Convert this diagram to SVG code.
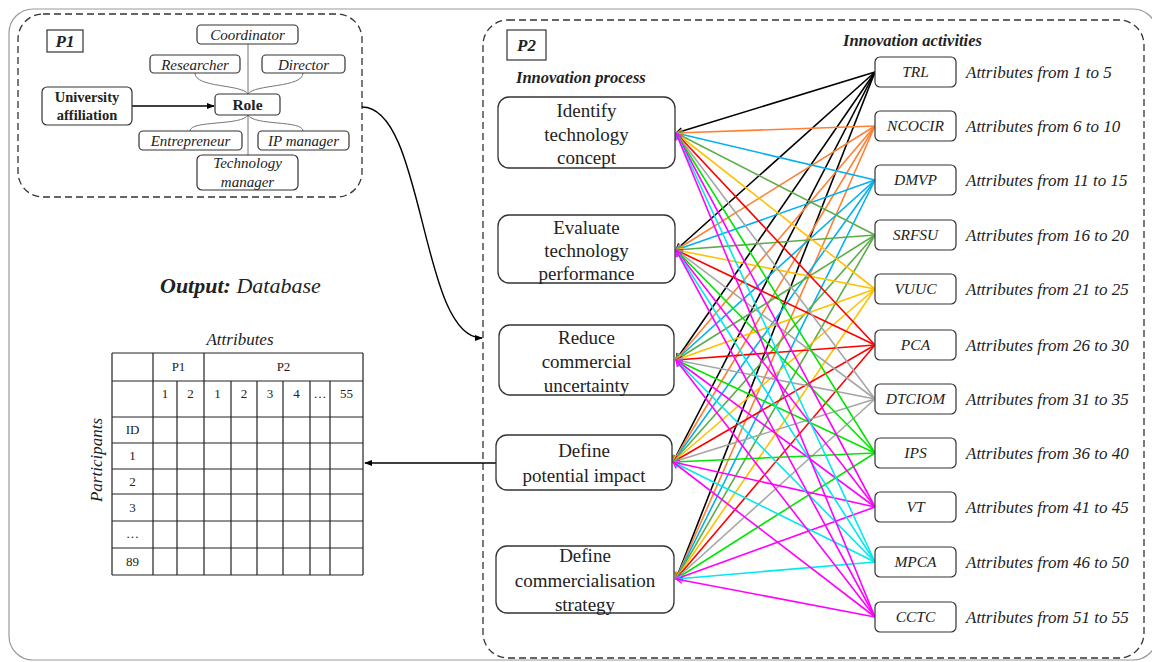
<svg xmlns="http://www.w3.org/2000/svg" width="1152" height="662" viewBox="0 0 1152 662">
<style>
.frame{fill:none;stroke:#9a9a9a;stroke-width:1.2}
.dash{fill:none;stroke:#333;stroke-width:1.3;stroke-dasharray:7 4}
.box{fill:#fff;stroke:#333;stroke-width:1.2}
.pbox{fill:#fff;stroke:#333;stroke-width:1.3}
.thin{fill:none;stroke:#777;stroke-width:1}
.blk{fill:none;stroke:#000;stroke-width:1.4}
.t{font-family:"Liberation Serif","Times New Roman",serif;fill:#222}
.i{font-style:italic}
.b{font-weight:bold}
.c{text-anchor:middle}
.tab{fill:none;stroke:#222;stroke-width:1.2}
#links path{fill:none;stroke-width:1.6}
</style>
<defs>
<marker id="ab" viewBox="0 0 10 10" refX="9" refY="5" markerWidth="8" markerHeight="8" markerUnits="userSpaceOnUse" orient="auto"><path d="M0,1 L10,5 L0,9 Z" fill="#000"/></marker>
<marker id="m0" viewBox="0 0 10 10" refX="9" refY="5" markerWidth="8" markerHeight="8" markerUnits="userSpaceOnUse" orient="auto"><path d="M1,1 L9,5 L1,9" fill="none" stroke="#000" stroke-width="1.6"/></marker>
<marker id="m1" viewBox="0 0 10 10" refX="9" refY="5" markerWidth="8" markerHeight="8" markerUnits="userSpaceOnUse" orient="auto"><path d="M1,1 L9,5 L1,9" fill="none" stroke="#ff8033" stroke-width="1.6"/></marker>
<marker id="m2" viewBox="0 0 10 10" refX="9" refY="5" markerWidth="8" markerHeight="8" markerUnits="userSpaceOnUse" orient="auto"><path d="M1,1 L9,5 L1,9" fill="none" stroke="#00b0f0" stroke-width="1.6"/></marker>
<marker id="m3" viewBox="0 0 10 10" refX="9" refY="5" markerWidth="8" markerHeight="8" markerUnits="userSpaceOnUse" orient="auto"><path d="M1,1 L9,5 L1,9" fill="none" stroke="#5cad48" stroke-width="1.6"/></marker>
<marker id="m4" viewBox="0 0 10 10" refX="9" refY="5" markerWidth="8" markerHeight="8" markerUnits="userSpaceOnUse" orient="auto"><path d="M1,1 L9,5 L1,9" fill="none" stroke="#ffc000" stroke-width="1.6"/></marker>
<marker id="m5" viewBox="0 0 10 10" refX="9" refY="5" markerWidth="8" markerHeight="8" markerUnits="userSpaceOnUse" orient="auto"><path d="M1,1 L9,5 L1,9" fill="none" stroke="#ff0000" stroke-width="1.6"/></marker>
<marker id="m6" viewBox="0 0 10 10" refX="9" refY="5" markerWidth="8" markerHeight="8" markerUnits="userSpaceOnUse" orient="auto"><path d="M1,1 L9,5 L1,9" fill="none" stroke="#a6a6a6" stroke-width="1.6"/></marker>
<marker id="m7" viewBox="0 0 10 10" refX="9" refY="5" markerWidth="8" markerHeight="8" markerUnits="userSpaceOnUse" orient="auto"><path d="M1,1 L9,5 L1,9" fill="none" stroke="#00e600" stroke-width="1.6"/></marker>
<marker id="m8" viewBox="0 0 10 10" refX="9" refY="5" markerWidth="8" markerHeight="8" markerUnits="userSpaceOnUse" orient="auto"><path d="M1,1 L9,5 L1,9" fill="none" stroke="#ff00ff" stroke-width="1.6"/></marker>
<marker id="m9" viewBox="0 0 10 10" refX="9" refY="5" markerWidth="8" markerHeight="8" markerUnits="userSpaceOnUse" orient="auto"><path d="M1,1 L9,5 L1,9" fill="none" stroke="#00e8f0" stroke-width="1.6"/></marker>
</defs>

<rect class="frame" x="9" y="9" width="1148" height="651" rx="24"/>

<!-- P1 -->
<g id="p1-frame">
<rect class="dash" x="18" y="14" width="344" height="183" rx="25"/>
<rect x="47" y="30" width="36" height="22" fill="#fff" stroke="#333" stroke-width="1.2"/>
<text class="t b i c" x="65" y="47" font-size="17">P1</text>
</g>
<g id="p1-links">
<path class="thin" d="M248,44 V94"/>
<path class="thin" d="M195,73 C195,88 242,84 248,94"/>
<path class="thin" d="M303,73 C303,88 254,84 248,94"/>
<path class="thin" d="M248,115 V155"/>
<path class="thin" d="M248,115 C242,126 190,120 190,131"/>
<path class="thin" d="M248,115 C254,126 303,120 303,131"/>
<path class="blk" d="M132,106 H214" marker-end="url(#ab)"/>
</g>
<g id="coordinator"><rect class="box" x="197" y="25" width="101" height="19" rx="4"/><text class="t i c" x="247.5" y="40" font-size="15">Coordinator</text></g>
<g id="researcher"><rect class="box" x="150" y="55" width="90" height="18" rx="4"/><text class="t i c" x="195" y="70" font-size="15">Researcher</text></g>
<g id="director"><rect class="box" x="262" y="55" width="83" height="18" rx="4"/><text class="t i c" x="303.5" y="70" font-size="15">Director</text></g>
<g id="university"><rect class="box" x="42" y="87" width="90" height="38" rx="5"/><text class="t b c" x="87" y="102" font-size="14.5">University</text><text class="t b c" x="87" y="120" font-size="14.5">affiliation</text></g>
<g id="role"><rect class="box" x="215" y="94" width="65" height="21" rx="4"/><text class="t b c" x="247.5" y="110" font-size="15.5">Role</text></g>
<g id="entrepreneur"><rect class="box" x="139" y="131" width="103" height="19" rx="4"/><text class="t i c" x="190.5" y="146" font-size="15">Entrepreneur</text></g>
<g id="ipmanager"><rect class="box" x="258" y="131" width="91" height="19" rx="4"/><text class="t i c" x="303.5" y="146" font-size="15">IP manager</text></g>
<g id="techmanager"><rect class="box" x="197" y="155" width="101" height="35" rx="5"/><text class="t i c" x="247.5" y="168" font-size="15">Technology</text><text class="t i c" x="247.5" y="187" font-size="15">manager</text></g>

<!-- Output -->
<g id="output">
<text class="t" x="160" y="293" font-size="22"><tspan class="b i">Output:</tspan><tspan class="i"> Database</tspan></text>
<text class="t i c" x="240" y="345" font-size="17">Attributes</text>
<text class="t i c" font-size="17" transform="translate(102,460) rotate(-90)">Participants</text>
<path class="tab" d="M112,353 H363 M112,381 H363 M112,417 H363 M112,443 H363 M112,469 H363 M112,494 H363 M112,521 H363 M112,548 H363 M112,575 H363 M112,353 V575 M363,353 V575 M153,353 V575 M204,353 V575 M177,381 V575 M231,381 V575 M257,381 V575 M283,381 V575 M310,381 V575 M330,381 V575"/>
<g class="t c" font-size="13">
<text x="178.5" y="371">P1</text><text x="283.5" y="371">P2</text>
<text x="165" y="398">1</text><text x="190.5" y="398">2</text><text x="217.5" y="398">1</text><text x="244" y="398">2</text><text x="270" y="398">3</text><text x="296.5" y="398">4</text><text x="320" y="398">…</text><text x="346.5" y="398">55</text>
<text x="132.5" y="434">ID</text><text x="132.5" y="460">1</text><text x="132.5" y="486">2</text><text x="132.5" y="512">3</text><text x="132.5" y="538">…</text><text x="132.5" y="566">89</text>
</g>
</g>

<!-- P2 -->
<g id="p2-frame">
<rect class="dash" x="483" y="20" width="661" height="638" rx="25"/>
<rect x="507" y="30" width="39" height="30" fill="#fff" stroke="#333" stroke-width="1.2"/>
<text class="t b i c" x="526.5" y="51" font-size="17">P2</text>
<text class="t b i" x="516" y="83" font-size="16.5">Innovation process</text>
<text class="t b i" x="843" y="46" font-size="16.5">Innovation activities</text>
</g>

<g id="connectors">
<path class="blk" d="M362,107 C425,107 420,338 482,338" marker-end="url(#ab)"/>
<path class="blk" d="M496,463 H365" marker-end="url(#ab)"/>
</g>

<g id="links">
<g stroke="#000" marker-end="url(#m0)"><path d="M875,72 L676,133"/><path d="M875,72 L676,250"/><path d="M875,72 L676,360"/><path d="M875,72 L673,462"/><path d="M875,72 L676,579"/></g>
<g stroke="#ff8033" marker-end="url(#m1)"><path d="M875,126 L676,133"/><path d="M875,126 L676,250"/><path d="M875,126 L676,360"/><path d="M875,126 L673,462"/><path d="M875,126 L676,579"/></g>
<g stroke="#00b0f0" marker-end="url(#m2)"><path d="M875,180 L676,133"/><path d="M875,180 L676,250"/><path d="M875,180 L676,360"/><path d="M875,180 L673,462"/><path d="M875,180 L676,579"/></g>
<g stroke="#5cad48" marker-end="url(#m3)"><path d="M875,235 L676,133"/><path d="M875,235 L676,250"/><path d="M875,235 L676,360"/><path d="M875,235 L673,462"/><path d="M875,235 L676,579"/></g>
<g stroke="#ffc000" marker-end="url(#m4)"><path d="M875,289 L676,133"/><path d="M875,289 L676,250"/><path d="M875,289 L676,360"/><path d="M875,289 L673,462"/><path d="M875,289 L676,579"/></g>
<g stroke="#ff0000" marker-end="url(#m5)"><path d="M875,345 L676,133"/><path d="M875,345 L676,250"/><path d="M875,345 L676,360"/><path d="M875,345 L673,462"/><path d="M875,345 L676,579"/></g>
<g stroke="#a6a6a6" marker-end="url(#m6)"><path d="M875,399 L676,133"/><path d="M875,399 L676,250"/><path d="M875,399 L676,360"/><path d="M875,399 L673,462"/><path d="M875,399 L676,579"/></g>
<g stroke="#00e600" marker-end="url(#m7)"><path d="M875,453 L676,133"/><path d="M875,453 L676,250"/><path d="M875,453 L676,360"/><path d="M875,453 L673,462"/><path d="M875,453 L676,579"/></g>
<g stroke="#ff00ff" marker-end="url(#m8)"><path d="M875,507 L676,133"/><path d="M875,507 L676,250"/><path d="M875,507 L676,360"/><path d="M875,507 L673,462"/><path d="M875,507 L676,579"/></g>
<g stroke="#00e8f0" marker-end="url(#m9)"><path d="M875,562 L676,133"/><path d="M875,562 L676,250"/><path d="M875,562 L676,360"/><path d="M875,562 L673,462"/><path d="M875,562 L676,579"/></g>
<g stroke="#ff00ff" marker-end="url(#m8)"><path d="M875,617 L676,133"/><path d="M875,617 L676,250"/><path d="M875,617 L676,360"/><path d="M875,617 L673,462"/><path d="M875,617 L676,579"/></g>
</g>

<!-- Process boxes -->
<g id="proc1"><rect class="pbox" x="498" y="97" width="177" height="71" rx="11"/><g class="t c" font-size="19"><text x="586.5" y="117">Identify</text><text x="586.5" y="141">technology</text><text x="586.5" y="164">concept</text></g></g>
<g id="proc2"><rect class="pbox" x="498" y="215" width="177" height="68" rx="11"/><g class="t c" font-size="19"><text x="586.5" y="234">Evaluate</text><text x="586.5" y="257">technology</text><text x="586.5" y="280">performance</text></g></g>
<g id="proc3"><rect class="pbox" x="499" y="325" width="175" height="70" rx="11"/><g class="t c" font-size="19"><text x="586.5" y="344">Reduce</text><text x="586.5" y="368">commercial</text><text x="586.5" y="392">uncertainty</text></g></g>
<g id="proc4"><rect class="pbox" x="496" y="435" width="176" height="55" rx="11"/><g class="t c" font-size="19"><text x="584" y="457">Define</text><text x="584" y="482">potential impact</text></g></g>
<g id="proc5"><rect class="pbox" x="496" y="546" width="178" height="67" rx="11"/><g class="t c" font-size="19"><text x="585" y="562">Define</text><text x="585" y="587">commercialisation</text><text x="585" y="611">strategy</text></g></g>

<!-- Activity boxes -->
<g id="act-trl"><rect class="box" x="875" y="57" width="81" height="30" rx="5"/><text class="t i c" x="915.5" y="77" font-size="15.5">TRL</text><text class="t i" x="966" y="78" font-size="17">Attributes from 1 to 5</text></g>
<g id="act-ncocir"><rect class="box" x="875" y="111" width="81" height="30" rx="5"/><text class="t i c" x="915.5" y="131" font-size="15.5">NCOCIR</text><text class="t i" x="966" y="132" font-size="17">Attributes from 6 to 10</text></g>
<g id="act-dmvp"><rect class="box" x="875" y="165" width="81" height="30" rx="5"/><text class="t i c" x="915.5" y="185" font-size="15.5">DMVP</text><text class="t i" x="966" y="186" font-size="17">Attributes from 11 to 15</text></g>
<g id="act-srfsu"><rect class="box" x="875" y="220" width="81" height="30" rx="5"/><text class="t i c" x="915.5" y="240" font-size="15.5">SRFSU</text><text class="t i" x="966" y="241" font-size="17">Attributes from 16 to 20</text></g>
<g id="act-vuuc"><rect class="box" x="875" y="274" width="81" height="30" rx="5"/><text class="t i c" x="915.5" y="294" font-size="15.5">VUUC</text><text class="t i" x="966" y="295" font-size="17">Attributes from 21 to 25</text></g>
<g id="act-pca"><rect class="box" x="875" y="330" width="81" height="30" rx="5"/><text class="t i c" x="915.5" y="350" font-size="15.5">PCA</text><text class="t i" x="966" y="351" font-size="17">Attributes from 26 to 30</text></g>
<g id="act-dtciom"><rect class="box" x="875" y="384" width="81" height="30" rx="5"/><text class="t i c" x="915.5" y="404" font-size="15.5">DTCIOM</text><text class="t i" x="966" y="405" font-size="17">Attributes from 31 to 35</text></g>
<g id="act-ips"><rect class="box" x="875" y="438" width="81" height="30" rx="5"/><text class="t i c" x="915.5" y="458" font-size="15.5">IPS</text><text class="t i" x="966" y="459" font-size="17">Attributes from 36 to 40</text></g>
<g id="act-vt"><rect class="box" x="875" y="492" width="81" height="30" rx="5"/><text class="t i c" x="915.5" y="512" font-size="15.5">VT</text><text class="t i" x="966" y="513" font-size="17">Attributes from 41 to 45</text></g>
<g id="act-mpca"><rect class="box" x="875" y="547" width="81" height="30" rx="5"/><text class="t i c" x="915.5" y="567" font-size="15.5">MPCA</text><text class="t i" x="966" y="568" font-size="17">Attributes from 46 to 50</text></g>
<g id="act-cctc"><rect class="box" x="875" y="602" width="81" height="30" rx="5"/><text class="t i c" x="915.5" y="622" font-size="15.5">CCTC</text><text class="t i" x="966" y="623" font-size="17">Attributes from 51 to 55</text></g>
</svg>
